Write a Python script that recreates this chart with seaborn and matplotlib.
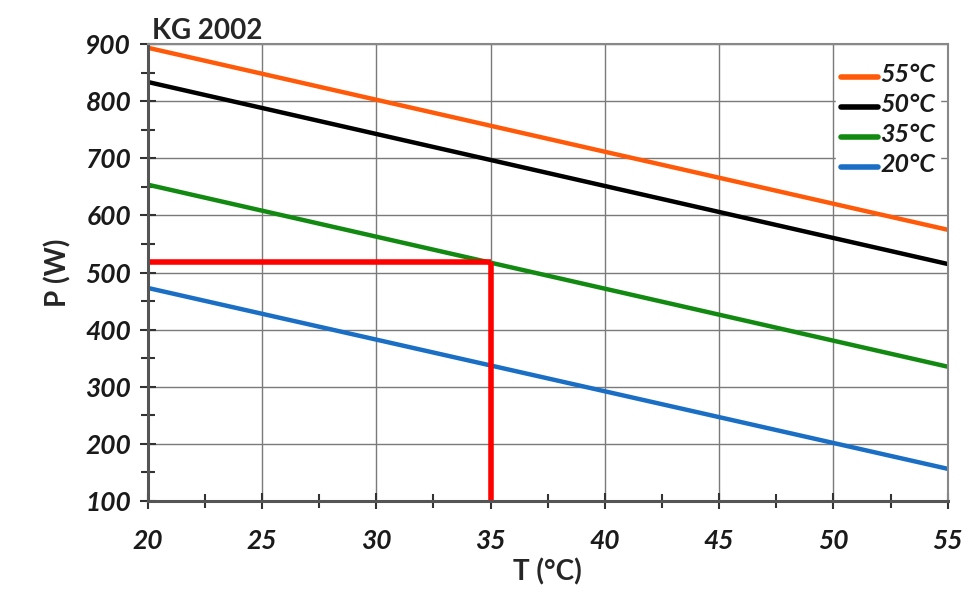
import matplotlib
matplotlib.use("Agg")
import matplotlib.pyplot as plt
import pandas as pd
import seaborn as sns
from matplotlib.ticker import MultipleLocator

# straight characteristic lines, read at both ends of the T axis
T_ENDS = [20, 55]
SERIES = ["55°C", "50°C", "35°C", "20°C"]
P_55 = [894, 575]
P_50 = [834, 515]
P_35 = [654, 335]
P_20 = [473, 156]
COLORS = ["#ff5a0a", "#000000", "#128a12", "#1a6fc4"]

# operating point marked in red
OP_T = 35
OP_P = 518

X_TICKS = [20, 25, 30, 35, 40, 45, 50, 55]
Y_TICKS = [100, 200, 300, 400, 500, 600, 700, 800, 900]

rows = []
for name, vals in zip(SERIES, [P_55, P_50, P_35, P_20]):
    for t, p in zip(T_ENDS, vals):
        rows.append({"T": t, "P": p, "series": name})
df = pd.DataFrame(rows)

sns.set_theme(style="white", rc={"xtick.bottom": True, "ytick.left": True})
plt.rcParams["font.family"] = ["Lato", "DejaVu Sans"]

fig = plt.figure(figsize=(9.79, 5.99), dpi=100)
ax = fig.add_axes([0.151, 0.164, 0.817, 0.762])

ax.grid(True, color="#7a7a7a", linewidth=1.0)
ax.set_axisbelow(True)

sns.lineplot(data=df, x="T", y="P", hue="series", hue_order=SERIES,
             palette=COLORS, linewidth=3.2, ax=ax, legend=True)

ax.plot([T_ENDS[0], OP_T], [OP_P, OP_P], color="#ff0000", linewidth=4, solid_capstyle="butt")
ax.plot([OP_T, OP_T], [OP_P, Y_TICKS[0]], color="#ff0000", linewidth=4, solid_capstyle="butt")

ax.set_xlim(20, 55)
ax.set_ylim(100, 900)
ax.set_xticks(X_TICKS)
ax.set_yticks(Y_TICKS)
ax.xaxis.set_minor_locator(MultipleLocator(2.5))
ax.yaxis.set_minor_locator(MultipleLocator(50))
ax.tick_params(which="both", direction="inout", color="#333333", width=1.5,
               bottom=True, left=True)
ax.tick_params(which="major", length=12)
ax.tick_params(which="minor", length=10)
ax.tick_params(axis="x", pad=14)
ax.tick_params(axis="y", pad=6)
for lab in ax.get_xticklabels() + ax.get_yticklabels():
    lab.set_fontweight("bold")
    lab.set_fontstyle("italic")
    lab.set_fontsize(19)
    lab.set_color("#1a1a1a")

for side in ["left", "bottom"]:
    ax.spines[side].set_color("#555555")
    ax.spines[side].set_linewidth(2.2)
for side in ["top", "right"]:
    ax.spines[side].set_color("#888888")
    ax.spines[side].set_linewidth(1.5)

ax.set_xlabel("T (°C)", fontsize=20, fontweight="bold", labelpad=4)
ax.set_ylabel("P (W)", fontsize=20, fontweight="bold", labelpad=10)
ax.set_title("KG 2002", fontsize=20, fontweight="bold", loc="left", pad=2, x=0.005)

leg = ax.legend(loc="upper right", bbox_to_anchor=(1.0, 0.985), frameon=True,
                facecolor="white", edgecolor="white", framealpha=1.0,
                handlelength=2.4, handletextpad=0.2, labelspacing=0.45,
                borderpad=0.3, fancybox=False)
for txt in leg.get_texts():
    txt.set_fontweight("bold")
    txt.set_fontstyle("italic")
    txt.set_fontsize(18)
    txt.set_color("#1a1a1a")
for line in leg.get_lines():
    line.set_linewidth(4)

fig.savefig("out.png", dpi=100, facecolor="white")
